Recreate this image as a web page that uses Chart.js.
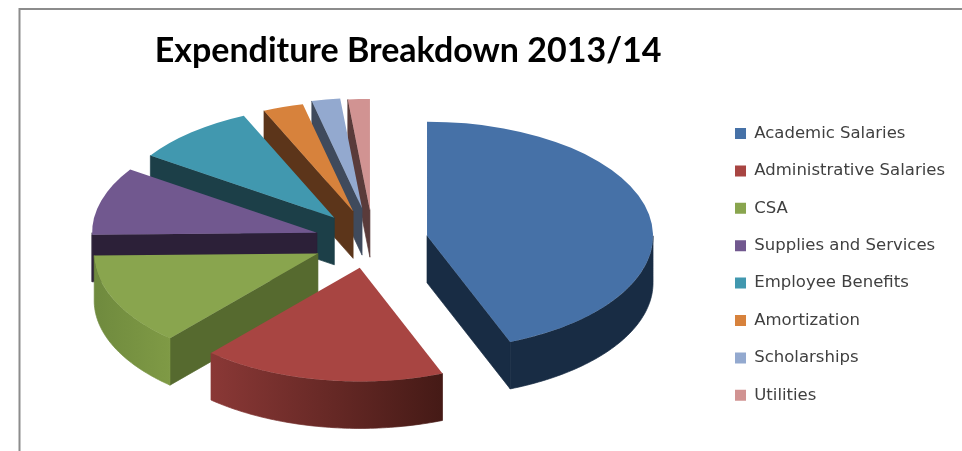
<!DOCTYPE html>
<html>
<head>
<meta charset="utf-8">
<style>html,body{margin:0;padding:0;background:#fff}#w{position:relative;width:962px;height:451px}</style>
<script src="https://cdn.jsdelivr.net/npm/chart.js@4"></script>
</head>
<body>
<div id="w"><canvas id="c" width="962" height="451"></canvas></div>
<script>
const categories = ["Academic Salaries","Administrative Salaries","CSA","Supplies and Services","Employee Benefits","Amortization","Scholarships","Utilities"];
const shares = [44, 17.5, 13.2, 9.7, 8.9, 3, 2.1, 1.6];
const topColors = ["#4671a7","#a84542","#89a54e","#71588f","#4198af","#d7823c","#93a9cf","#d19392"];
const cutColors = ["#182c44","#451a16","#566a2f","#2c2038","#1c3f48","#5c351a","#3f4a5c","#5a3b3a"];
const wallFrom = ["#182c44","#8a3836","#6f8a3e","#2c2038","#1c3f48","#5c351a","#3f4a5c","#5a3b3a"];
const wallTo   = ["#182c44","#451a16","#7f9a45","#2c2038","#1c3f48","#5c351a","#3f4a5c","#5a3b3a"];
const explode = [55, 54, 58.5, 58.4, 60, 62, 66, 61];
const nudgeX = [0, -4, -2, 0, 0, 0, 0, 0];
const radiusScale = [1, 0.995, 0.99, 0.995, 0.98, 0.965, 0.965, 0.975];
const CX = 373, CY = 241, K = 0.505, DEPTH = 47, RADIUS = 226;

function normRange(a0, a1){
  const lo = Math.max(a0, 0), hi = Math.min(a1, Math.PI);
  return hi > lo ? [lo, hi] : null;
}
const pie3d = {
  id: 'pie3d',
  beforeDraw(chart){
    const c = chart.ctx;
    c.save(); c.strokeStyle = '#8c8c8c'; c.lineWidth = 2;
    c.beginPath(); c.moveTo(962, 9); c.lineTo(19.5, 9); c.lineTo(19.5, 451); c.stroke();
    c.restore();
  },
  beforeDatasetDraw(chart, args){
    const c = chart.ctx, arcs = chart.getDatasetMeta(args.index).data;
    for (let i = arcs.length - 1; i >= 0; i--) {
      const arc = arcs[i];
      const a0 = arc.startAngle, a1 = arc.endAngle, s = radiusScale[i], r = arc.outerRadius * s;
      const mid = (a0 + a1) / 2;
      const sx = CX + nudgeX[i] + Math.cos(mid) * explode[i];
      const sy = CY + Math.sin(mid) * explode[i] * K;
      const pt = a => [sx + Math.cos(a) * r, sy + Math.sin(a) * r * K];
      c.lineWidth = 0.7; c.lineJoin = 'round';
      const quad = (p, q, fill) => {
        c.fillStyle = fill; c.strokeStyle = fill; c.beginPath();
        c.moveTo(p[0], p[1]); c.lineTo(q[0], q[1]);
        c.lineTo(q[0], q[1] + DEPTH); c.lineTo(p[0], p[1] + DEPTH);
        c.closePath(); c.fill(); c.stroke();
      };
      if (Math.cos(a0) < 0) quad([sx, sy], pt(a0), cutColors[i]);
      if (Math.cos(a1) > 0) quad([sx, sy], pt(a1), cutColors[i]);
      const vis = normRange(a0, a1);
      if (vis) {
        const p0 = pt(vis[0]), p1 = pt(vis[1]);
        const g = c.createLinearGradient(Math.min(p0[0], p1[0]), 0, Math.max(p0[0], p1[0]), 0);
        g.addColorStop(0, wallFrom[i]); g.addColorStop(1, wallTo[i]);
        c.fillStyle = g; c.strokeStyle = g; c.beginPath();
        const n = 60;
        for (let j = 0; j <= n; j++) { const p = pt(vis[0] + (vis[1] - vis[0]) * j / n); j ? c.lineTo(p[0], p[1]) : c.moveTo(p[0], p[1]); }
        for (let j = n; j >= 0; j--) { const p = pt(vis[0] + (vis[1] - vis[0]) * j / n); c.lineTo(p[0], p[1] + DEPTH); }
        c.closePath(); c.fill(); c.stroke();
      }
      c.save();
      c.translate(sx, sy); c.scale(s, K * s); c.translate(-arc.x, -arc.y);
      arc.draw(c);
      c.restore();
    }
    return false;
  }
};
new Chart(document.getElementById('c'), {
  type: 'pie',
  plugins: [pie3d],
  data: { labels: categories, datasets: [{ data: shares, backgroundColor: topColors, borderWidth: 0 }] },
  options: {
    responsive: false, animation: false, radius: RADIUS,
    layout: { padding: { left: 102, right: 7, bottom: 14 } },
    plugins: {
      tooltip: { enabled: false },
      title: { display: true, text: "Expenditure Breakdown 2013/14", fullSize: false, color: '#000',
        font: { family: 'Lato', size: 34, weight: 'bold' }, padding: { top: 31, bottom: 20 } },
      legend: { position: 'right', fullSize: false,
        labels: { boxWidth: 11, boxHeight: 11, padding: 20.9, color: '#404040', font: { family: 'DejaVu Sans', size: 16.5 } } }
    }
  }
});
</script>
</body>
</html>
